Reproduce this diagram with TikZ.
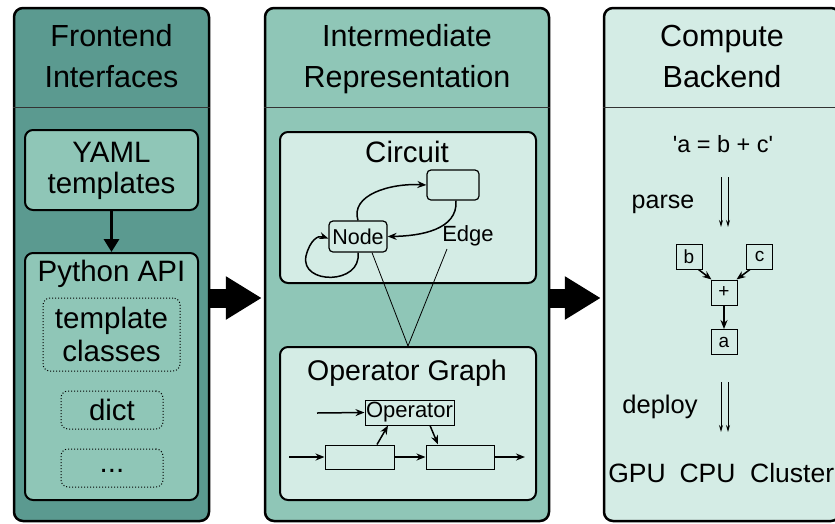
\documentclass[tikz,border=0pt]{standalone}
\usepackage{fontspec}
\setmainfont{Liberation Sans}
\usetikzlibrary{arrows.meta,calc}
\definecolor{cdark}{HTML}{5B9A90}
\definecolor{cmid}{HTML}{8FC6B7}
\definecolor{clight}{HTML}{D4ECE5}
\definecolor{csep}{HTML}{333333}
\begin{document}
\begin{tikzpicture}[x=1pt,y=-1pt,
  panel/.style={draw=black, line width=2.5pt, rounded corners=9pt, inner sep=0pt},
  sepline/.style={draw=csep, line width=1pt},
  hdr/.style={anchor=base, inner sep=0pt, font=\fontsize{30.5}{35}\selectfont},
  big/.style={anchor=base, inner sep=0pt, font=\fontsize{29.5}{30}\selectfont},
  txt/.style={anchor=base, inner sep=0pt, font=\fontsize{#1}{#1}\selectfont},
  rbox/.style={draw=black, line width=2pt, rounded corners=8pt, inner sep=0pt},
  dbox/.style={draw=black, line width=1pt, dotted, rounded corners=7pt, inner sep=0pt},
  sbox/.style={draw=black, line width=1.2pt, rounded corners=4pt, inner sep=0pt},
  qbox/.style={draw=black, line width=1pt, inner sep=0pt},
  bigarrow/.style={line width=19pt, -{Triangle[length=36pt 0 0, width=41pt 0 0]}},
  midarrow/.style={line width=3.5pt, -{Triangle[length=13pt 0 0, width=15pt 0 0]}},
  thin/.style={line width=1.5pt, -{Stealth[length=9pt 0 0, width=7pt 0 0]}},
  thinn/.style={line width=1pt, -{Stealth[length=7pt 0 0, width=4pt 0 0]}},
  plain/.style={line width=0.8pt}
]
\useasboundingbox (0,0) rectangle (835,523);

% ---------- panels ----------
\node[panel, fill=cdark, minimum width=195pt, minimum height=513pt] (p1) at (111.5,264.5) {};
\node[panel, fill=cmid, minimum width=284pt, minimum height=513pt] (p2) at (407,264.5) {};
\node[panel, fill=clight, minimum width=236pt, minimum height=513pt] (p3) at (722,264.5) {};

\coordinate (sy) at (0,107);
\draw[sepline] (p1.west |- sy) -- (p1.east |- sy);
\draw[sepline] (p2.west |- sy) -- (p2.east |- sy);
\draw[sepline] (p3.west |- sy) -- (p3.east |- sy);

\node[hdr] (h1a) at (111.5,46) {Frontend};
\node[hdr] (h1b) at (111.5,87) {Interfaces};
\node[hdr] (h2a) at (407,46) {Intermediate};
\node[hdr] (h2b) at (407,87) {Representation};
\node[hdr] (h3a) at (722,46) {Compute};
\node[hdr] (h3b) at (722,87) {Backend};

% ---------- big arrows ----------
\coordinate (ay) at (0,298);
\draw[bigarrow] (p1.east |- ay) -- ([xshift=-2pt]p2.west |- ay);
\draw[bigarrow] (p2.east |- ay) -- ([xshift=-2pt]p3.west |- ay);

% ---------- panel 1 ----------
\node[rbox, fill=cmid, minimum width=173pt, minimum height=80pt] (yaml) at (111.5,170) {};
\node[big] (yamlt1) at (111.5,162) {YAML};
\node[big] (yamlt2) at (111.5,193) {templates};

\node[rbox, fill=cmid, minimum width=173pt, minimum height=247pt] (py) at (111.5,376.5) {};
\node[big] (pyt) at (111.5,281) {Python API};
\draw[midarrow] (yaml.south) -- (py.north);

\node[dbox, minimum width=137pt, minimum height=73pt] (tc) at (111.5,334.5) {};
\node[big] (tct1) at (111.5,328) {template};
\node[big] (tct2) at (111.5,361) {classes};
\node[dbox, minimum width=102pt, minimum height=38pt] (dict) at (112,410) {};
\node[big] (dictt) at (112,420) {dict};
\node[dbox, minimum width=102pt, minimum height=38pt] (more) at (112,468) {};
\node[big] (moret) at (112,472) {...};

% ---------- panel 2 ----------
\node[rbox, fill=clight, minimum width=256pt, minimum height=151pt] (circ) at (408,207.5) {};
\node[big] (circt) at (407,162) {Circuit};
\node[sbox, minimum width=52pt, minimum height=30pt] (eb) at (453,185) {};
\node[sbox, minimum width=58pt, minimum height=31pt, font=\fontsize{21.5}{21.5}\selectfont] (cn) at (358,236.5) {Node};
\node[txt=22] (edge) at (468,241) {Edge};

\draw[thin] (cn.north) .. controls (350,195) and (390,183) .. (eb.west);
\draw[thin] ([xshift=3pt]eb.south) .. controls (458,230) and (420,236) .. (cn.east);
\draw[thin] (cn.south) .. controls (362,285) and (300,285) .. (306,256) .. controls (310,240) and (318,235) .. ([yshift=-2pt]cn.west);

\node[rbox, fill=clight, minimum width=256pt, minimum height=153pt] (opg) at (408,423.5) {};
\node[txt=28.5] (opgt) at (407,380) {Operator Graph};
\node[qbox, minimum width=89pt, minimum height=25pt, font=\fontsize{22}{22}\selectfont] (op) at (409.5,412.5) {Operator};
\node[qbox, minimum width=69pt, minimum height=24pt] (lb) at (359.5,457) {};
\node[qbox, minimum width=68pt, minimum height=24pt] (rb) at (460,457) {};

\draw[plain] ([xshift=14pt]cn.south) -- (opg.north);
\coordinate (et) at (447,249);
\draw[plain] (et) -- (opg.north);

\coordinate (in1) at (317,413);
\coordinate (in2) at (289,457);
\coordinate (out1) at (525,457);
\draw[thin] (in1) -- (op.west);
\draw[thin] (in2) -- (lb.west);
\draw[thin] (lb.east) -- (rb.west);
\draw[thin] (rb.east) -- (out1);
\draw[thin] (lb.north -| 377,0) -- (op.south -| 388,0);
\draw[thin] (op.south -| 430,0) -- (rb.north -| 438,0);

% ---------- panel 3 ----------
\node[txt=23.5] (expr) at (723,152) {\textquotesingle a = b + c\textquotesingle};
\node[txt=25] (parse) at (663,208) {parse};
\coordinate (pa1) at (721,177);
\coordinate (pa2) at (728,177);
\coordinate (pb1) at (721,227);
\coordinate (pb2) at (728,227);
\draw[thinn] (pa1) -- (pb1);
\draw[thinn] (pa2) -- (pb2);

\node[qbox, minimum width=26pt, minimum height=25pt, font=\fontsize{19}{19}\selectfont] (vb) at (689,256.5) {b};
\node[qbox, minimum width=26pt, minimum height=25pt, font=\fontsize{19}{19}\selectfont] (vc) at (759.5,256.5) {c};
\node[qbox, minimum width=26pt, minimum height=25pt, font=\fontsize{19}{19}\selectfont] (vp) at (724,292.5) {+};
\node[qbox, minimum width=26pt, minimum height=25pt, font=\fontsize{19}{19}\selectfont] (va) at (724,342) {a};
\draw[thin] ([xshift=-4pt]vb.south east) -- ([xshift=1pt]vp.north west);
\draw[thin] ([xshift=4pt]vc.south west) -- ([xshift=-1pt]vp.north east);
\draw[thin] (vp.south) -- (va.north);

\node[txt=25.5] (deploy) at (660,413) {deploy};
\coordinate (da1) at (721,382);
\coordinate (da2) at (728,382);
\coordinate (db1) at (721,432);
\coordinate (db2) at (728,432);
\draw[thinn] (da1) -- (db1);
\draw[thinn] (da2) -- (db2);

\node[txt=26.5] (gpu) at (637,482) {GPU};
\node[txt=26.5] (cpu) at (707.5,482) {CPU};
\node[txt=26.5, anchor=base west] (clu) at (750,482) {Cluster};
\end{tikzpicture}
\end{document}
